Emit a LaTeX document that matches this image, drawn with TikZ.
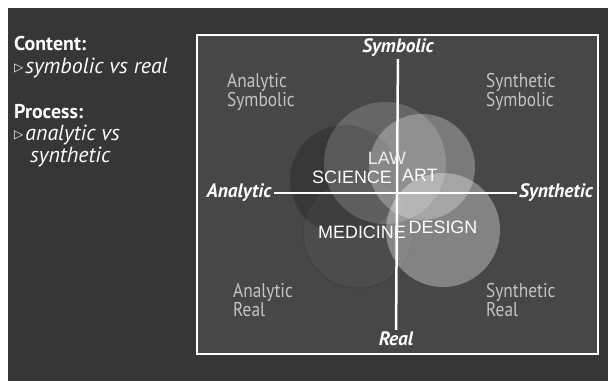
\documentclass[tikz,border=0pt]{standalone}
\usepackage{fontspec}
\setmainfont{PT Sans}
\newfontfamily\arial{Liberation Sans}
\newfontfamily\symfont{DejaVu Sans}
\newfontfamily\narrowsans[FakeStretch=0.87]{PT Sans}
\definecolor{slidebg}{HTML}{363636}
\definecolor{panelbg}{HTML}{474747}
\definecolor{quadtext}{HTML}{C4C4C4}
\tikzset{
  axislabel/.style={text=white, font=\bfseries\itshape\fontsize{19.5}{19.5}\selectfont, inner sep=2bp},
  quadlabel/.style={text=quadtext, align=left, anchor=north west, inner sep=0pt,
    font=\narrowsans\fontsize{20}{16.5}\selectfont},
  fieldlabel/.style={text=white, font=\arial\fontsize{18}{18}\selectfont, inner sep=0pt},
  sidelabel/.style={text=white, anchor=base west, inner sep=0pt},
  axisline/.style={white, line width=2.5bp}
}
\newcommand{\tri}{\raisebox{1.5bp}{\symfont\fontsize{12}{12}\selectfont ▷}\hspace{2bp}}
\begin{document}
\begin{tikzpicture}[x=1bp, y=-1bp]
 \useasboundingbox (0,0) rectangle (608,381);
 \fill [white] (0,0) rectangle (608,381);
 \fill [slidebg] (8,8) rectangle (608,381);

 % left column
 \node [sidelabel, font=\bfseries\fontsize{20}{20}\selectfont] (content) at (14,50) {Content:};
 \node [sidelabel, font=\itshape\fontsize{22}{22}\selectfont] (symreal) at (14,73) {\tri symbolic vs real};
 \node [sidelabel, font=\bfseries\fontsize{20}{20}\selectfont] (process) at (14,118) {Process:};
 \node [sidelabel, font=\itshape\fontsize{22}{22}\selectfont] (anasyn) at (14,140) {\tri analytic vs};
 \node [sidelabel, font=\itshape\fontsize{22}{22}\selectfont] (anasyn2) at (30,162) {synthetic};

 % frame
 \filldraw [fill=panelbg, draw=white, line width=1.6bp] (197,35) rectangle (598,354);

 % circles
 \fill [black, opacity=.2] (345,180) circle (55);
 \filldraw [fill=white, fill opacity=.03, draw=black, draw opacity=.12, line width=1bp] (358,233) circle (55);
 \fill [white, opacity=.17] (385,163) circle (61);
 \fill [white, opacity=.28] (422,167) circle (53);
 \fill [white, opacity=.33] (443,230) circle (57);

 % quadrant labels
 \node [quadlabel] (as) at (227,73) {Analytic\\Symbolic};
 \node [quadlabel] (ss) at (486,73) {Synthetic\\Symbolic};
 \node [quadlabel] (ar) at (233,283) {Analytic\\Real};
 \node [quadlabel] (sr) at (486,283) {Synthetic\\Real};

 % axes
 \node [axislabel] (symbolic) at (398,48) {Symbolic};
 \node [axislabel] (real) at (396,339) {Real};
 \node [axislabel] (analytic) at (239,193) {Analytic};
 \node [axislabel] (synthetic) at (556,193) {Synthetic};
 \draw [axisline] (symbolic) -- (real);
 \draw [axisline] (analytic) -- (synthetic);

 % fields
 \node [fieldlabel, text=white!85!gray] (law) at (387,158) {LAW};
 \node [fieldlabel] (science) at (352,177) {SCIENCE};
 \node [fieldlabel] (art) at (420,175) {ART};
 \node [fieldlabel] (medicine) at (362,232) {MEDICINE};
 \node [fieldlabel] (design) at (443,227) {DESIGN};
\end{tikzpicture}
\end{document}
